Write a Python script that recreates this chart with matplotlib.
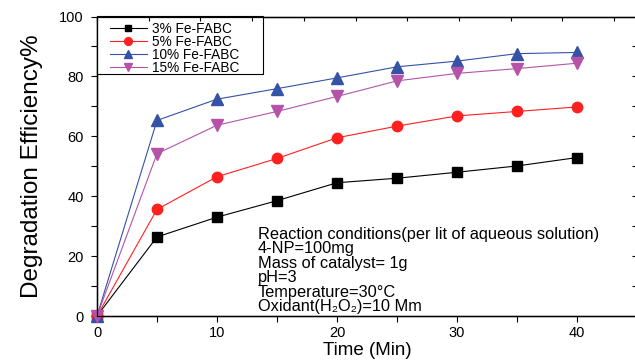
import numpy as np
import matplotlib
matplotlib.use("Agg")
import matplotlib.pyplot as plt
from matplotlib.patches import Rectangle
from matplotlib.ticker import MultipleLocator

time_min = [0, 5, 10, 15, 20, 25, 30, 35, 40]
fe3 = [0, 26.4, 33.0, 38.5, 44.5, 46.0, 48.0, 50.1, 52.9]
fe5 = [0, 35.6, 46.5, 52.6, 59.5, 63.4, 66.8, 68.3, 69.8]
fe10 = [0, 65.3, 72.4, 75.9, 79.5, 83.2, 85.1, 87.6, 88.0]
fe15 = [0, 54.2, 63.7, 68.3, 73.3, 78.5, 81.0, 82.6, 84.4]
labels = ["3% Fe-FABC", "5% Fe-FABC", "10% Fe-FABC", "15% Fe-FABC"]

conditions = [
    "Reaction conditions(per lit of aqueous solution)",
    "4-NP=100mg",
    "Mass of catalyst= 1g",
    "pH=3",
    "Temperature=30°C",
    "Oxidant(H₂O₂)=10 Mm",
]

plt.rcParams["font.family"] = ["Liberation Sans", "DejaVu Sans"]

fig = plt.figure(figsize=(6.35, 3.6), dpi=100)
ax = fig.add_axes([97 / 635, 44 / 360, 540 / 635, 299.5 / 360])

styles = [
    dict(color="black", marker="s", ms=6.5),
    dict(color="#ff2020", marker="o", ms=7.5),
    dict(color="#3552a6", marker="^", ms=8.5),
    dict(color="#b553a8", marker="v", ms=8.5),
]
for series, lab, st in zip([fe3, fe5, fe10, fe15], labels, styles):
    ax.plot(time_min, series, lw=0.8, label=lab, clip_on=False, zorder=3,
            color=st["color"], marker=st["marker"], ms=st["ms"],
            markerfacecolor=st["color"], markeredgecolor=st["color"])

ax.set_xlim(0, 45)
ax.set_ylim(0, 100)
ax.xaxis.set_major_locator(MultipleLocator(10))
ax.xaxis.set_minor_locator(MultipleLocator(5))
ax.yaxis.set_major_locator(MultipleLocator(20))
ax.yaxis.set_minor_locator(MultipleLocator(10))
ax.tick_params(which="both", direction="out", length=4.5, width=0.8,
               labelsize=10.5, top=False, right=False)
ax.tick_params(axis="y", pad=5)
ax.tick_params(axis="x", pad=3)
for sp in ax.spines.values():
    sp.set_linewidth(1.0)

top = ax.twiny()
top.set_xlim(0, 45)
top.set_xticks(np.arange(0, 45, 4.31))
top.tick_params(direction="in", length=3, width=0.8, labeltop=False)

right = ax.twinx()
right.set_ylim(0, 100)
right.set_yticks(np.arange(10, 100, 10))
right.tick_params(direction="in", length=3.5, width=0.8, labelright=False)

ax.set_xlabel("Time (Min)", fontsize=13.5, labelpad=1)
ax.set_ylabel("Degradation Efficiency%", fontsize=17.5, labelpad=12)

# legend box drawn separately so the entries can sit inset from the frame
box_w, box_h = 166 / 540, 57 / 299.5
ax.add_patch(Rectangle((0, 1 - box_h), box_w, box_h, transform=ax.transAxes,
                       facecolor="white", edgecolor="black", lw=0.8,
                       zorder=4, clip_on=False))
leg = ax.legend(loc="upper left", bbox_to_anchor=(13 / 540, 0.982),
                fontsize=9.8, markerscale=0.75, frameon=False,
                borderaxespad=0, borderpad=0, handlelength=2.7,
                handletextpad=0.35, labelspacing=-0.08)
leg.set_zorder(5)

y0 = 0.272
for i, line in enumerate(conditions):
    ax.text(0.298, y0 - i * 0.048, line, transform=ax.transAxes,
            fontsize=11.8, va="center", ha="left")

fig.savefig("out.png", dpi=100)
